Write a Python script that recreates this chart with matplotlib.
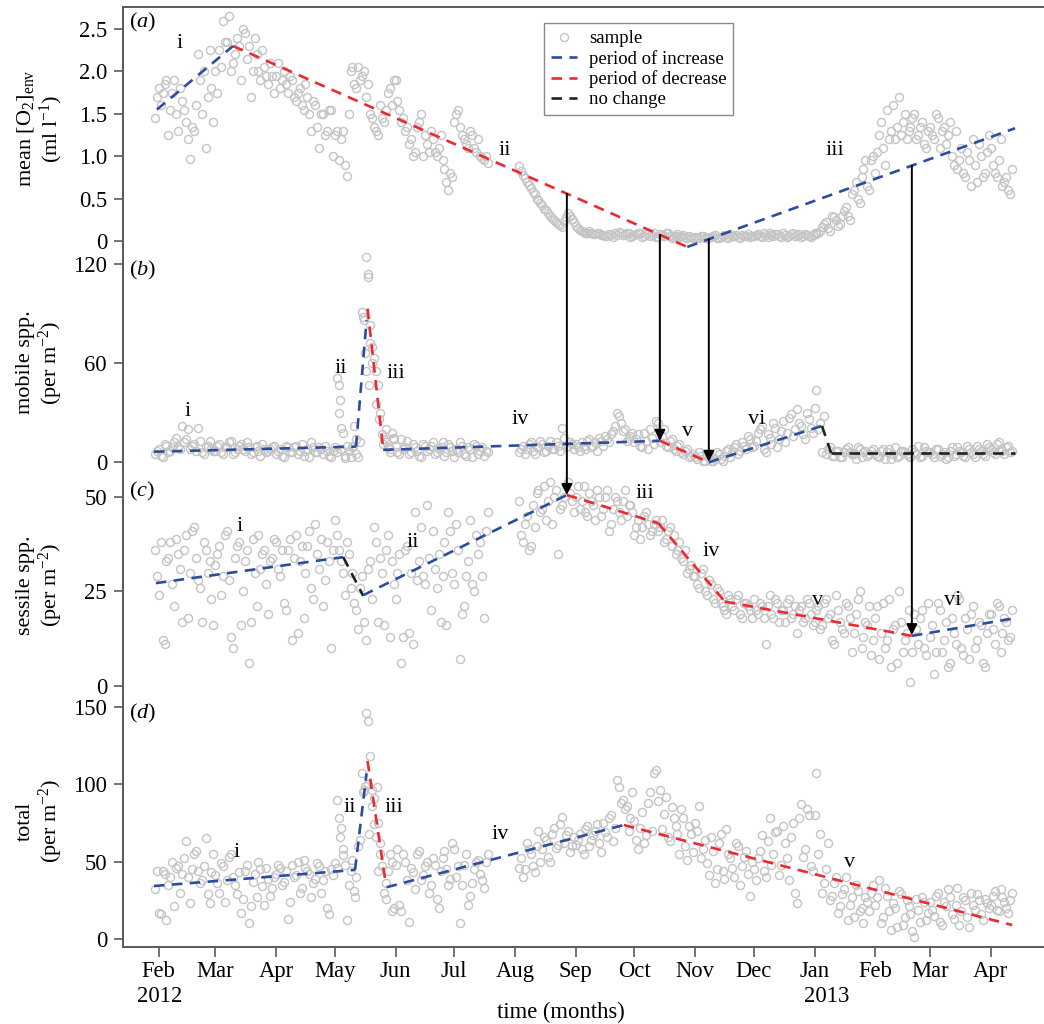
import numpy as np
import matplotlib
matplotlib.use('Agg')
import matplotlib.pyplot as plt
from matplotlib.lines import Line2D
from matplotlib.patches import ConnectionPatch

plt.rcParams['font.family'] = ['Liberation Serif', 'DejaVu Serif']
plt.rcParams['mathtext.fontset'] = 'custom'
plt.rcParams['mathtext.rm'] = 'Liberation Serif'
plt.rcParams['mathtext.it'] = 'Liberation Serif:italic'
plt.rcParams['mathtext.bf'] = 'Liberation Serif:bold'

# time axis: day 0 = 1 Feb 2012, daily samples, gap in late July
days1 = np.arange(-2, 170, 2)    # even days, before gap
days1b = np.arange(-1, 169, 2)   # odd days, before gap
days2 = np.arange(184, 438, 2)   # even days, after gap
days2b = np.arange(185, 437, 2)  # odd days, after gap

month_days = [0, 29, 60, 90, 121, 151, 182, 213, 243, 274, 304, 335, 366, 394, 425]
month_labels = ['Feb', 'Mar', 'Apr', 'May', 'Jun', 'Jul', 'Aug', 'Sep',
                'Oct', 'Nov', 'Dec', 'Jan', 'Feb', 'Mar', 'Apr']
year_labels = [(0.7, '2012'), (341.3, '2013')]

# (a) mean [O2]env
o2_1 = [1.45, 1.8, 1.75, 1.9, 1.55, 1.9, 1.3, 1.65, 1.4, 0.97, 1.3, 2.2, 1.5, 1.1, 2.25, 1.4,
        1.75, 2.05, 2.35, 2.65, 2.1, 2.4, 1.9, 2.45, 2.3, 2.0, 2.2, 1.9, 2.05, 1.85, 1.95,
        1.95, 1.8, 2.0, 1.75, 1.9, 1.65, 1.8, 1.55, 1.7, 1.3, 1.6, 1.1, 1.5, 1.3, 1.55,
        1.25, 0.95, 1.3, 0.77, 2.0, 1.85, 2.05, 1.95, 1.7, 1.5, 1.35, 1.25, 1.45, 1.55, 1.8, 1.9,
        1.65, 1.4, 1.3, 1.15, 1.0, 1.35, 1.5, 1.25, 1.05, 1.2, 1.0, 1.25, 0.85, 0.6, 0.75,
        1.5, 1.35, 1.2, 1.1, 1.25, 1.05, 1.0, 0.95, 0.92]
o2_1b = [1.7, 1.6, 1.85, 1.25, 1.75, 1.5, 1.8, 1.55, 1.2, 1.35, 1.6, 1.9, 2.0, 1.7, 1.8,
         2.0, 2.25, 2.6, 2.35, 2.0, 2.2, 2.3, 2.5, 2.15, 1.7, 2.4, 2.0, 2.25, 1.95, 2.1, 1.75,
         2.1, 1.9, 1.85, 1.95, 1.7, 1.75, 1.6, 1.85, 1.5, 1.65, 1.35, 1.5, 1.25, 1.55, 1.0,
         1.3, 1.2, 0.9, 1.5, 2.05, 1.8, 1.9, 2.0, 1.85, 1.45, 1.3, 1.6, 1.4, 1.75, 1.6,
         1.9, 1.55, 1.45, 1.35, 1.2, 1.05, 1.4, 1.0, 1.15, 1.3, 1.05, 1.1, 0.95, 0.7, 0.8, 1.4,
         1.55, 1.25, 1.15, 1.3, 1.1, 1.2, 0.98, 1.0]
o2_2 = [0.88, 0.78, 0.7, 0.62, 0.55, 0.48, 0.42, 0.36, 0.3, 0.25, 0.2, 0.17, 0.28, 0.3, 0.22,
        0.15, 0.12, 0.1, 0.12, 0.08, 0.1, 0.07, 0.06, 0.08, 0.05, 0.07, 0.1, 0.08, 0.09, 0.06,
        0.08, 0.1, 0.06, 0.09, 0.07, 0.05, 0.08, 0.06, 0.09, 0.04, 0.06, 0.05, 0.07, 0.04, 0.05,
        0.05, 0.03, 0.06, 0.04, 0.05, 0.07, 0.04, 0.06, 0.05, 0.08, 0.06, 0.05, 0.07, 0.06, 0.05,
        0.06, 0.08, 0.05, 0.07, 0.09, 0.06, 0.08, 0.05, 0.07, 0.06, 0.09, 0.07, 0.05, 0.08, 0.06, 0.07,
        0.08, 0.12, 0.2, 0.15, 0.3, 0.25, 0.2, 0.35, 0.3, 0.55, 0.7, 0.45, 0.85, 0.65, 0.95,
        0.8, 1.25, 1.1, 1.55, 1.3, 1.2, 1.7, 1.4, 1.2, 1.35, 1.5, 1.25, 1.4, 1.1,
        1.35, 1.2, 1.45, 1.3, 1.15, 1.4, 0.9, 0.85, 1.1, 0.75, 0.95, 1.2, 0.7, 1.0, 0.8, 1.25,
        0.9, 0.75, 1.2, 0.7, 0.6, 0.85]
o2_2b = [0.82, 0.74, 0.66, 0.58, 0.5, 0.45, 0.38, 0.33, 0.27, 0.23, 0.19, 0.24, 0.33, 0.26,
         0.18, 0.13, 0.11, 0.09, 0.1, 0.08, 0.09, 0.07, 0.06, 0.07, 0.09, 0.11, 0.07, 0.1, 0.05,
         0.07, 0.09, 0.05, 0.08, 0.06, 0.09, 0.05, 0.07, 0.1, 0.06, 0.05, 0.08, 0.06, 0.05, 0.06, 0.04,
         0.04, 0.06, 0.03, 0.05, 0.06, 0.04, 0.05, 0.07, 0.04, 0.06, 0.07, 0.04, 0.06, 0.08, 0.06,
         0.07, 0.06, 0.09, 0.05, 0.07, 0.08, 0.06, 0.09, 0.05, 0.08, 0.06, 0.08, 0.06, 0.07, 0.05,
         0.1, 0.09, 0.17, 0.22, 0.12, 0.28, 0.18, 0.3, 0.4, 0.25, 0.6, 0.5, 0.75, 0.95, 0.6, 1.0,
         1.05, 1.4, 0.9, 1.2, 1.6, 1.35, 1.25, 1.5, 1.3, 1.45, 1.2, 1.35, 1.15, 1.3,
         1.25, 1.5, 1.1, 1.35, 1.25, 1.0, 1.3, 0.95, 0.8, 1.05, 0.65, 0.9, 1.15, 0.75, 1.05,
         1.1, 0.8, 0.95, 0.65, 0.75, 0.55]

# (b) mobile spp.
mobile_1 = [5, 8, 3, 10, 7, 12, 9, 22, 14, 8, 11, 21, 6, 9, 13, 7,
            10, 6, 9, 12, 5, 8, 11, 7, 9, 6, 10, 4, 8, 7, 9,
            5, 8, 3, 9, 6, 10, 7, 4, 8, 12, 6, 9, 5, 7, 3,
            9, 47, 18, 10, 3, 22, 3, 91, 124, 83, 63, 47, 17, 12, 8, 14,
            6, 14, 9, 5, 11, 7, 3, 10, 8, 12, 6, 9, 4, 11, 7,
            8, 12, 5, 9, 3, 10, 7, 4, 6]
mobile_1b = [7, 4, 11, 6, 9, 15, 8, 12, 20, 10, 7, 13, 5, 10, 8,
             7, 11, 5, 9, 13, 6, 10, 8, 12, 5, 9, 7, 11, 6, 8, 10,
             7, 4, 10, 6, 9, 5, 11, 7, 3, 9, 6, 8, 10, 4, 7,
             6, 8, 4, 7, 9, 5, 12, 86, 112, 70, 55, 30, 14, 9, 18,
             10, 5, 8, 13, 6, 9, 4, 11, 7, 10, 5, 8, 12, 6, 9, 3,
             6, 10, 4, 8, 11, 5, 9, 7]
mobile_2 = [6, 10, 8, 12, 5, 9, 11, 7, 13, 8, 10, 21, 9, 12, 8,
            9, 12, 8, 14, 10, 7, 13, 16, 12, 19, 30, 24, 20, 15, 18,
            14, 10, 18, 8, 15, 25, 12, 20, 9, 14, 7, 11, 5, 8, 4,
            3, 6, 1, 4, 0.5, 2, 5, 1, 7, 3, 9, 5, 12, 8, 14,
            10, 18, 22, 6, 15, 24, 9, 19, 12, 27, 16, 32, 22, 14, 26, 18,
            44, 24, 28, 8, 4, 7, 3, 6, 9, 5, 2, 8, 6, 4, 7,
            5, 3, 8, 6, 2, 9, 4, 7, 5, 3, 6, 10, 4, 7,
            6, 3, 8, 5, 2, 7, 4, 9, 6, 3, 8, 5, 10, 7, 4, 9,
            6, 11, 8, 5, 10, 7]
mobile_2b = [8, 5, 11, 7, 9, 13, 6, 10, 8, 12, 7, 15, 10, 11,
             11, 7, 10, 13, 9, 12, 15, 10, 14, 17, 22, 28, 19, 13, 16,
             12, 17, 9, 13, 20, 11, 24, 16, 10, 13, 8, 10, 6, 7, 3, 5,
             2, 4, 0.5, 3, 1, 6, 2, 4, 8, 6, 11, 7, 10, 16, 9,
             13, 20, 8, 17, 11, 21, 14, 25, 18, 29, 20, 24, 17, 30, 21,
             33, 20, 6, 5, 9, 4, 7, 3, 8, 6, 5, 9, 3, 7, 5, 8,
             4, 7, 2, 8, 5, 3, 7, 6, 4, 8, 5, 3, 9, 6,
             5, 8, 4, 6, 3, 9, 5, 7, 4, 10, 6, 3, 8, 5, 11,
             8, 5, 12, 7, 9, 6]
mobile_extra_days = [91, 92.6, 92.2, 93.2, 95, 99.5, 101, 104.6, 105.4, 105.8,
                     106.8, 107.8, 107.2, 109.2, 111.2, 112.6, 114.6, 116.2, 118, 119.6]
mobile_extra_vals = [51, 38, 30, 21, 2.5, 10, 14, 88, 66, 55,
                     114, 72, 47, 60, 35, 26, 11, 20, 6, 15]

# (c) sessile spp.
sessile_1 = [36, 24, 12, 33, 38, 21, 35, 17, 40, 30, 42, 28, 17, 36, 33, 16,
             35, 24, 40, 28, 10, 37, 16, 33, 6, 39, 21, 31, 36, 19, 34,
             38, 29, 22, 36, 12, 40, 33, 18, 37, 26, 43, 31, 21, 38, 10,
             44, 36, 30, 38, 26, 22, 15, 29, 12, 33, 42, 17, 30, 36, 13, 27,
             30, 6, 36, 14, 11, 28, 42, 27, 34, 41, 26, 17, 38, 46, 30,
             43, 7, 21, 33, 27, 40, 38, 18, 46]
sessile_1b = [29, 38, 11, 34, 27, 39, 31, 36, 18, 41, 34, 26, 38, 30, 23,
              32, 37, 29, 41, 13, 34, 38, 25, 36, 17, 30, 40, 35, 27, 33, 39,
              31, 36, 20, 39, 34, 14, 37, 30, 41, 23, 35, 39, 28, 33, 36,
              40, 33, 24, 35, 30, 20, 26, 17, 31, 23, 38, 34, 16, 40, 33,
              23, 35, 13, 37, 30, 46, 33, 29, 48, 20, 31, 35, 29, 16, 41, 27,
              36, 19, 29, 44, 25, 35, 29, 41]
sessile_2 = [49, 38, 45, 37, 42, 52, 47, 44, 54, 50, 35, 48, 53, 51, 46,
             53, 49, 46, 51, 48, 52, 45, 50, 41, 47, 49, 44, 52, 48, 46,
             42, 39, 45, 43, 41, 44, 42, 38, 41, 37, 35, 38, 33, 30, 32,
             29, 26, 31, 24, 27, 22, 25, 21, 19, 23, 20, 24, 18, 22, 20,
             23, 19, 21, 11, 24, 18, 22, 20, 17, 23, 19, 14, 21, 18, 22, 16,
             20, 15, 22, 18, 12, 24, 17, 14, 21, 9, 19, 25, 13, 16, 8,
             18, 7, 22, 12, 5, 16, 25, 9, 14, 1, 19, 11, 20, 8,
             13, 3, 22, 9, 17, 6, 14, 24, 10, 18, 7, 21, 12, 16, 5, 19,
             15, 22, 9, 18, 12, 20]
sessile_2b = [40, 43, 36, 48, 51, 46, 53, 49, 43, 52, 47, 50, 54, 49,
              50, 47, 53, 45, 49, 44, 50, 47, 52, 43, 50, 46, 49, 45, 48,
              40, 44, 42, 46, 40, 43, 41, 44, 39, 42, 40, 36, 34, 36, 31, 29,
              27, 30, 25, 28, 23, 26, 22, 20, 24, 21, 23, 19, 22, 21, 18,
              20, 22, 18, 21, 19, 23, 17, 20, 22, 18, 21, 20, 17, 23, 19,
              17, 21, 16, 23, 19, 11, 20, 15, 22, 18, 14, 23, 10, 17, 21, 12,
              21, 14, 10, 23, 15, 6, 17, 12, 20, 9, 15, 18, 10, 22,
              16, 9, 20, 12, 5, 18, 11, 23, 8, 15, 19, 10, 17, 6, 14,
              19, 11, 21, 14, 17, 13]

# (d) total
total_1 = [32, 17, 44, 12, 40, 21, 47, 42, 63, 23, 55, 44, 38, 65, 23, 55,
           36, 49, 24, 53, 40, 29, 17, 44, 10, 37, 27, 45, 22, 39, 33,
           42, 46, 37, 13, 48, 41, 30, 51, 44, 27, 39, 47, 38, 20, 45,
           49, 78, 58, 12, 44, 31, 60, 107, 146, 118, 91, 75, 47, 26, 55, 20,
           58, 18, 50, 11, 43, 55, 38, 47, 30, 52, 26, 44, 57, 35, 62,
           40, 10, 48, 22, 36, 50, 42, 33, 55]
total_1b = [44, 16, 42, 35, 50, 46, 30, 52, 40, 45, 57, 36, 47, 29, 43,
            41, 30, 47, 38, 55, 35, 43, 26, 48, 21, 42, 50, 34, 46, 28, 40,
            48, 35, 44, 24, 40, 50, 33, 46, 42, 36, 49, 30, 44, 16, 41,
            46, 72, 48, 35, 51, 40, 64, 96, 100, 86, 66, 55, 30, 44, 18,
            48, 22, 55, 38, 46, 32, 57, 41, 50, 35, 48, 20, 52, 45, 39, 58,
            47, 35, 55, 28, 45, 51, 38, 50]
total_2 = [46, 40, 62, 55, 43, 70, 58, 64, 50, 72, 61, 79, 67, 56, 66,
           64, 58, 71, 60, 67, 74, 56, 69, 78, 63, 103, 88, 84, 70, 95,
           64, 72, 62, 88, 70, 109, 96, 81, 66, 85, 73, 55, 78, 51, 68,
           75, 86, 58, 49, 66, 36, 62, 44, 71, 52, 40, 60, 47, 57, 28,
           45, 52, 67, 40, 78, 55, 70, 48, 62, 38, 75, 23, 87, 58, 80, 44,
           107, 68, 36, 62, 28, 40, 21, 32, 12, 27, 35, 18, 10, 24, 30,
           22, 38, 14, 28, 6, 20, 31, 9, 25, 16, 1.5, 19, 27, 12,
           24, 15, 30, 9, 21, 27, 13, 33, 18, 25, 8, 22, 29, 16, 26, 20,
           28, 19, 32, 24, 17, 30]
total_2b = [52, 45, 58, 47, 60, 50, 66, 53, 68, 59, 74, 62, 70, 60,
            61, 68, 55, 73, 64, 70, 62, 75, 66, 80, 72, 98, 90, 86, 78,
            76, 58, 82, 67, 95, 107, 89, 71, 92, 63, 78, 68, 84, 60, 73, 56,
            70, 52, 64, 41, 57, 45, 68, 39, 55, 46, 62, 35, 53, 42, 50,
            38, 57, 44, 63, 48, 69, 41, 73, 52, 66, 30, 78, 53, 84, 47,
            80, 55, 30, 45, 25, 36, 17, 29, 40, 22, 14, 31, 20, 27, 18, 35,
            27, 10, 33, 18, 23, 8, 29, 14, 21, 5, 26, 11, 24, 17,
            19, 28, 11, 24, 32, 16, 22, 9, 27, 14, 30, 19, 25, 12, 23,
            22, 31, 18, 27, 20, 25]
total_extra_days = [91, 92.6, 94.4, 100.3, 105.4, 106.9, 107.4, 109, 111.5, 113,
                    112, 116, 119, 104.5, 110.2]
total_extra_vals = [90, 66, 54, 27, 99, 141, 68, 96, 98, 62, 44, 36, 50, 95, 74]

# fitted periods: (day0, value0, day1, value1, kind)
o2_trend = [(-0.9, 1.55, 38, 2.3, 'inc'), (38, 2.3, 270, -0.07, 'dec'),
            (270, -0.07, 437.4, 1.33, 'inc')]
mobile_trend = [(-2.4, 6.4, 100.8, 9.5, 'inc'), (100.8, 9.5, 106.2, 86, 'inc'),
                (106.7, 93, 114.7, 8, 'dec'), (114.7, 7.5, 256, 13, 'inc'),
                (256, 13, 281, 0, 'dec'), (281, 0, 338.8, 22, 'inc'),
                (338.8, 22, 343.5, 5.5, 'none'), (343.5, 5.5, 437.4, 5.5, 'none')]
sessile_trend = [(-1.4, 27.2, 94.3, 34.1, 'inc'), (94.3, 34.1, 104.5, 23.8, 'none'),
                 (104.5, 24, 208.5, 50.6, 'inc'), (208.5, 50.6, 255.2, 43.1, 'dec'),
                 (255.2, 43.1, 289.2, 22.3, 'dec'), (289.2, 22.3, 384.7, 13.2, 'dec'),
                 (384.7, 13.2, 436.3, 17.8, 'inc')]
total_trend = [(-2.4, 34.2, 100.3, 44.6, 'inc'), (100.3, 44.6, 106.2, 107, 'inc'),
               (106.7, 115, 115.6, 39.2, 'dec'), (116.4, 33.4, 237.6, 73.6, 'inc'),
               (237.6, 73.6, 436, 9, 'dec')]

# roman numeral annotations (day, value, text)
o2_notes = [(11, 2.33, 'i'), (177, 1.07, 'ii'), (345.5, 1.07, 'iii')]
mobile_notes = [(14.6, 30.5, 'i'), (93.2, 57, 'ii'), (121, 54, 'iii'), (184.6, 25.6, 'iv'),
                (270, 18.4, 'v'), (305.5, 25.6, 'vi')]
sessile_notes = [(41.6, 42.1, 'i'), (130, 38, 'ii'), (248.5, 50.9, 'iii'), (282, 35.5, 'iv'),
                 (336.8, 22.7, 'v'), (405.7, 22.5, 'vi')]
total_notes = [(40, 56, 'i'), (97.7, 84.6, 'ii'), (120, 84.6, 'iii'), (174.4, 67.8, 'iv'),
               (353, 49.7, 'v')]

# arrows linking panel (a) to other panels: (day, value in a, target panel, value there)
arrows = [(208.5, 0.558, 2, 50.6), (256, 0.072, 1, 13), (281, 0.022, 1, 0.3),
          (384.7, 0.89, 2, 13.4)]

colors = {'inc': '#2c4c9e', 'dec': '#ea2a2e', 'none': '#222222'}
dash = (0, (4.0, 2.8))
pt_color = '#c4c4c4'
spine_color = '#5a5a5a'

W, H = 1044, 1024
fig = plt.figure(figsize=(W / 100, H / 100), dpi=100)

panels = [
    dict(top=7, bottom=250, ylim=(-0.106, 2.76), yticks=[0, 0.5, 1.0, 1.5, 2.0, 2.5],
         yticklabels=['0', '0.5', '1.0', '1.5', '2.0', '2.5'],
         ylabel='mean [O$_2$]$_{\\mathrm{env}}$\n(ml l$^{-1}$)',
         series=[(days1, o2_1), (days1b, o2_1b), (days2, o2_2), (days2b, o2_2b)],
         trend=o2_trend, notes=o2_notes, tag='a', tagy=0.938),
    dict(top=250, bottom=475, ylim=(-7.7, 128.5), yticks=[0, 60, 120],
         yticklabels=['0', '60', '120'], ylabel='mobile spp.\n(per m$^{-2}$)',
         series=[(days1, mobile_1), (days1b, mobile_1b), (days2, mobile_2), (days2b, mobile_2b),
                 (mobile_extra_days, mobile_extra_vals)],
         trend=mobile_trend, notes=mobile_notes, tag='b', tagy=0.911),
    dict(top=475, bottom=695, ylim=(-2.5, 55.9), yticks=[0, 25, 50],
         yticklabels=['0', '25', '50'], ylabel='sessile spp.\n(per m$^{-2}$)',
         series=[(days1, sessile_1), (days1b, sessile_1b), (days2, sessile_2), (days2b, sessile_2b)],
         trend=sessile_trend, notes=sessile_notes, tag='c', tagy=0.923),
    dict(top=695, bottom=947, ylim=(-5.2, 157.6), yticks=[0, 50, 100, 150],
         yticklabels=['0', '50', '100', '150'], ylabel='total\n(per m$^{-2}$)',
         series=[(days1, total_1), (days1b, total_1b), (days2, total_2), (days2b, total_2b),
                 (total_extra_days, total_extra_vals)],
         trend=total_trend, notes=total_notes, tag='d', tagy=0.925),
]

axes = []
for i, p in enumerate(panels):
    ax = fig.add_axes([123 / W, 1 - p['bottom'] / H, (W - 123) / W,
                       (p['bottom'] - p['top']) / H])
    ax.set_facecolor('none')
    ax.set_xlim(-18.2, 452.2)
    ax.set_ylim(*p['ylim'])

    for xs, ys in p['series']:
        ax.plot(xs, ys, 'o', mfc='none', mec=pt_color, ms=5.8, mew=1.0, clip_on=False, zorder=2)

    for d0, v0, d1, v1, kind in p['trend']:
        ax.plot([d0, d1], [v0, v1], color=colors[kind], lw=1.9, linestyle=dash,
                clip_on=False, zorder=3)

    for d, v, t in p['notes']:
        ax.text(d, v, t, fontsize=16, ha='center', va='center', zorder=4)

    ax.text(0.006, p['tagy'], '(' + '$\\mathit{' + p['tag'] + '}$' + ')', transform=ax.transAxes,
            fontsize=16, ha='left', va='center')

    for s in ['right', 'top', 'bottom']:
        ax.spines[s].set_visible(False)
    ax.spines['left'].set_color(spine_color)
    ax.spines['left'].set_linewidth(1.4)
    ax.set_yticks(p['yticks'])
    ax.set_yticklabels(p['yticklabels'])
    ax.tick_params(axis='y', direction='out', length=6.5, width=1.2, color=spine_color,
                   labelsize=16.3, pad=5)
    ax.set_ylabel(p['ylabel'], fontsize=16, linespacing=1.1)
    ax.yaxis.set_label_coords(-0.063, 0.5)

    if i == 0:
        ax.spines['top'].set_visible(True)
        ax.spines['top'].set_color(spine_color)
        ax.spines['top'].set_linewidth(1.4)
    if i == 3:
        ax.spines['bottom'].set_visible(True)
        ax.spines['bottom'].set_color(spine_color)
        ax.spines['bottom'].set_linewidth(1.4)
        ax.set_xticks(month_days)
        ax.set_xticklabels(month_labels)
        ax.tick_params(axis='x', direction='out', length=7, width=1.2, color=spine_color,
                       labelsize=16.3, pad=3)
        for d, t in year_labels:
            ax.text(d, -0.198, t, transform=ax.get_xaxis_transform(), fontsize=16.3,
                    ha='center', va='center')
    else:
        ax.set_xticks([])
    axes.append(ax)

fig.text(561 / W, 1 - 1012 / H, 'time (months)', fontsize=16.3, ha='center', va='center')

for d, va_, target, vt in arrows:
    con = ConnectionPatch(xyA=(d, va_), coordsA=axes[0].transData,
                          xyB=(d, vt), coordsB=axes[target].transData,
                          arrowstyle='-|>', mutation_scale=16, lw=1.4, color='black',
                          shrinkA=0, shrinkB=0, zorder=6)
    fig.add_artist(con)

handles = [Line2D([], [], marker='o', ls='none', mfc='none', mec=pt_color, ms=5.8, mew=1.0),
           Line2D([], [], color=colors['inc'], lw=1.9, ls=dash),
           Line2D([], [], color=colors['dec'], lw=1.9, ls=dash),
           Line2D([], [], color=colors['none'], lw=1.9, ls=dash)]
leg = axes[0].legend(handles, ['sample', 'period of increase', 'period of decrease', 'no change'],
                     loc='upper left', bbox_to_anchor=(0.447, 0.971), fontsize=13.5,
                     frameon=True, fancybox=False, framealpha=1, edgecolor='#8a8a8a',
                     handlelength=1.4, handletextpad=0.65, labelspacing=0.15, borderpad=0.35)
leg.get_frame().set_linewidth(1.0)

fig.savefig('out.png', dpi=100)
